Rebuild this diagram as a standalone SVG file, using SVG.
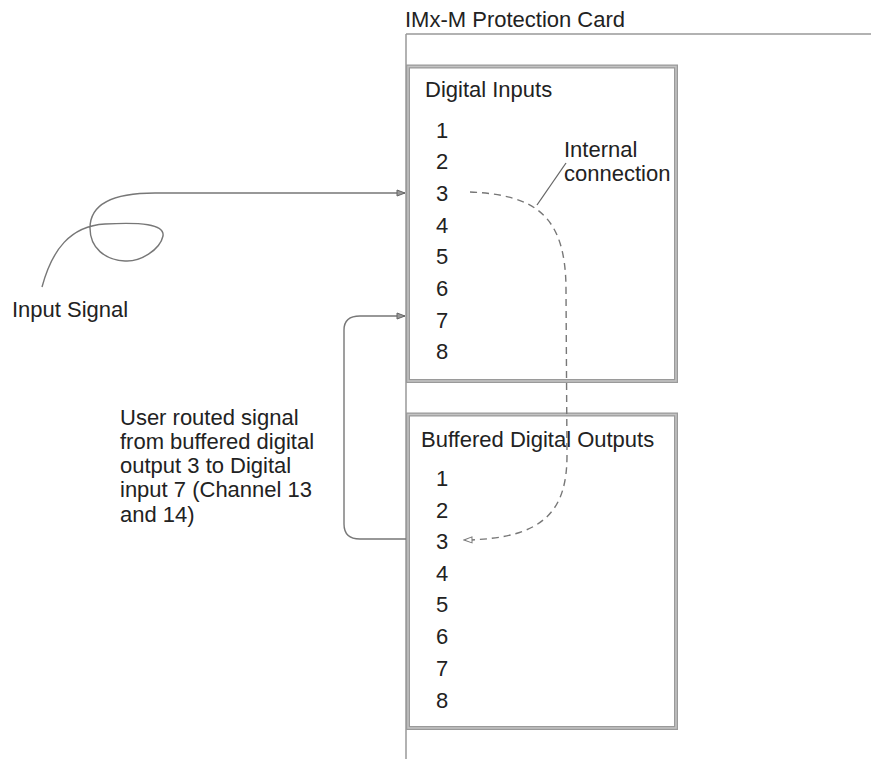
<svg xmlns="http://www.w3.org/2000/svg" width="871" height="759" viewBox="0 0 871 759">
<style>
text{font-family:"Liberation Sans",Arial,sans-serif;font-size:22px;fill:#222}
.frame{fill:none;stroke:#9a9a9a;stroke-width:4}
.frameIn{fill:none;stroke:#c4c4c4;stroke-width:1.5}
.wire{fill:none;stroke:#777;stroke-width:1.4}
.dash{fill:none;stroke:#777;stroke-width:1.4;stroke-dasharray:7 5}
</style>
<defs>
<marker id="arr" markerWidth="10" markerHeight="8" refX="9" refY="4" orient="auto" markerUnits="userSpaceOnUse">
<path d="M1,1 L9,4 L1,7 Z" fill="#999" stroke="#666" stroke-width="1"/>
</marker>
<marker id="arrOpen" markerWidth="10" markerHeight="8" refX="9" refY="4" orient="auto" markerUnits="userSpaceOnUse">
<path d="M1,1 L9,4 L1,7 Z" fill="#fff" stroke="#777" stroke-width="1"/>
</marker>
</defs>
<rect width="871" height="759" fill="#fff"/>
<g id="card">
<text x="405" y="27">IMx-M Protection Card</text>
<path d="M406,34 H871 M406,34 V759" fill="none" stroke="#999" stroke-width="1.5"/>
</g>
<g id="digital-inputs">
<rect class="frame" x="408" y="66.5" width="268" height="314.5"/>
<rect class="frameIn" x="408" y="66.5" width="268" height="314.5"/>
<text x="425" y="97">Digital Inputs</text>
<text x="436" y="138">1</text>
<text x="436" y="169">2</text>
<text x="436" y="201">3</text>
<text x="436" y="233">4</text>
<text x="436" y="264">5</text>
<text x="436" y="296">6</text>
<text x="436" y="328">7</text>
<text x="436" y="359">8</text>
</g>
<g id="buffered-outputs">
<rect class="frame" x="408" y="414.5" width="268" height="313.5"/>
<rect class="frameIn" x="408" y="414.5" width="268" height="313.5"/>
<text x="421" y="447">Buffered Digital Outputs</text>
<text x="436" y="486">1</text>
<text x="436" y="518">2</text>
<text x="436" y="549">3</text>
<text x="436" y="581">4</text>
<text x="436" y="612">5</text>
<text x="436" y="644">6</text>
<text x="436" y="676">7</text>
<text x="436" y="708">8</text>
</g>
<g id="input-signal">
<text x="12" y="317">Input Signal</text>
</g>
<g id="user-routed-note">
<text x="120" y="425">User routed signal</text>
<text x="120" y="449">from buffered digital</text>
<text x="120" y="473">output 3 to Digital</text>
<text x="120" y="497">input 7 (Channel 13</text>
<text x="120" y="522">and 14)</text>
</g>
<g id="internal-label">
<text x="564" y="157">Internal</text>
<text x="564" y="181">connection</text>
</g>
<g id="connectors">
<path class="wire" marker-end="url(#arr)" d="M42,287 C52,250 70,226 105,224 C140,222 165,224 163,236 C160,250 140,262 125,261 C105,260 90,248 90,228 C90,205 110,193 155,193 L405,193"/>
<path class="wire" marker-end="url(#arr)" d="M406,539 L360,539 Q344,539 344,524 L344,330 Q344,316 360,316 L405,316"/>
<path class="dash" marker-end="url(#arrOpen)" d="M470,192 C535,195 566,215 566,290 L567,455 C567,510 545,539 464,540"/>
<path d="M566,163 L537,205" fill="none" stroke="#666" stroke-width="1.3"/>
</g>
</svg>
